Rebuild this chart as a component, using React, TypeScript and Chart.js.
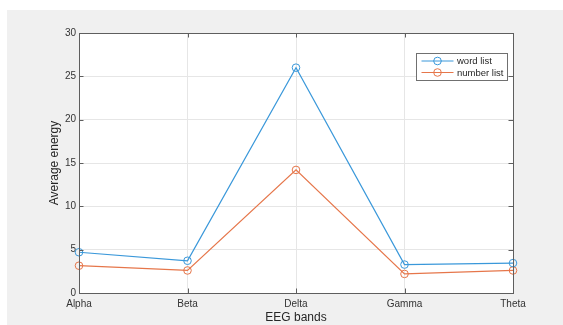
import React, { useEffect, useRef } from "react";
import { Chart, registerables } from "chart.js";

Chart.register(...registerables);

const bands = ["Alpha", "Beta", "Delta", "Gamma", "Theta"];
const wordList = [4.7, 3.72, 26.0, 3.28, 3.45];
const numberList = [3.15, 2.6, 14.2, 2.2, 2.6];
const yTicks = [0, 5, 10, 15, 20, 25, 30];
const seriesLabels = ["word list", "number list"];
const seriesColors = ["#3a98da", "#e6764a"];

const FONT = "'Liberation Sans', Arial, Helvetica, sans-serif";

const bgPlugin = {
  id: "matlabBg",
  beforeDraw(chart: any) {
    const { ctx, chartArea: a } = chart;
    ctx.save();
    ctx.fillStyle = "#ffffff";
    ctx.fillRect(0, 0, chart.width, chart.height);
    ctx.fillStyle = "#f0f0f0";
    ctx.fillRect(7, 10, chart.width - 7, chart.height - 10);
    ctx.fillStyle = "#ffffff";
    ctx.fillRect(a.left, a.top, a.right - a.left, a.bottom - a.top);
    ctx.restore();
  },
};

const framePlugin = {
  id: "matlabFrame",
  afterDatasetsDraw(chart: any) {
    const { ctx, chartArea: a } = chart;
    const xs = chart.scales.x;
    const ys = chart.scales.y;
    const tl = 4.5;
    ctx.save();
    ctx.strokeStyle = "#5e5e5e";
    ctx.lineWidth = 1;
    ctx.beginPath();
    xs.ticks.forEach((_: any, i: number) => {
      const px = Math.round(xs.getPixelForTick(i)) + 0.5;
      ctx.moveTo(px, a.bottom);
      ctx.lineTo(px, a.bottom - tl);
      ctx.moveTo(px, a.top);
      ctx.lineTo(px, a.top + tl);
    });
    ys.ticks.forEach((_: any, i: number) => {
      const py = Math.round(ys.getPixelForTick(i)) + 0.5;
      ctx.moveTo(a.left, py);
      ctx.lineTo(a.left + tl, py);
      ctx.moveTo(a.right, py);
      ctx.lineTo(a.right - tl, py);
    });
    ctx.stroke();
    ctx.strokeRect(
      Math.round(a.left) + 0.5,
      Math.round(a.top) + 0.5,
      Math.round(a.right - a.left),
      Math.round(a.bottom - a.top)
    );
    ctx.restore();
  },
};

const legendPlugin = {
  id: "matlabLegend",
  afterDraw(chart: any) {
    const { ctx, chartArea: a } = chart;
    const boxW = 91;
    const boxH = 27;
    const x0 = a.right - 6 - boxW;
    const y0 = a.top + 19.5;
    ctx.save();
    ctx.fillStyle = "#ffffff";
    ctx.fillRect(x0, y0, boxW, boxH);
    ctx.strokeStyle = "#707070";
    ctx.lineWidth = 1;
    ctx.strokeRect(Math.round(x0) + 0.5, Math.round(y0) + 0.5, boxW, boxH);
    ctx.font = `9.5px ${FONT}`;
    ctx.textBaseline = "middle";
    ctx.textAlign = "left";
    chart.data.datasets.forEach((ds: any, i: number) => {
      const cy = y0 + 8.5 + i * 11.5;
      const lx = x0 + 5.5;
      ctx.strokeStyle = ds.borderColor;
      ctx.beginPath();
      ctx.moveTo(lx, cy);
      ctx.lineTo(lx + 32, cy);
      ctx.stroke();
      ctx.beginPath();
      ctx.arc(lx + 16, cy, 3.8, 0, Math.PI * 2);
      ctx.stroke();
      ctx.fillStyle = "#262626";
      ctx.fillText(ds.label, lx + 35.5, cy + 0.5);
    });
    ctx.restore();
  },
};

export default function App() {
  const ref = useRef<HTMLCanvasElement | null>(null);

  useEffect(() => {
    if (!ref.current) return;
    const series = [wordList, numberList];
    const chart = new Chart(ref.current, {
      type: "line",
      data: {
        labels: bands,
        datasets: series.map((d, i) => ({
          label: seriesLabels[i],
          data: d,
          borderColor: seriesColors[i],
          backgroundColor: "rgba(0,0,0,0)",
          pointBackgroundColor: "rgba(0,0,0,0)",
          pointBorderColor: seriesColors[i],
          pointRadius: 3.8,
          pointBorderWidth: 1,
          borderWidth: 1.2,
          tension: 0,
          clip: false as any,
        })),
      },
      options: {
        responsive: false,
        maintainAspectRatio: false,
        animation: false,
        devicePixelRatio: 1,
        layout: { padding: { top: 33, right: 50, left: 0, bottom: 0 } },
        plugins: {
          legend: { display: false },
          tooltip: { enabled: false },
        },
        scales: {
          x: {
            type: "category",
            offset: false,
            grid: { color: "#e6e6e6", drawTicks: false, lineWidth: 1 },
            border: { display: false },
            ticks: {
              padding: 5,
              color: "#333333",
              font: { family: FONT, size: 10 },
              maxRotation: 0,
            },
            title: {
              display: true,
              text: "EEG bands",
              color: "#262626",
              font: { family: FONT, size: 12 },
              padding: { top: 0, bottom: 0 },
            },
            afterFit(scale: any) {
              scale.height = 32;
            },
          },
          y: {
            min: yTicks[0],
            max: yTicks[yTicks.length - 1],
            afterBuildTicks(scale: any) {
              scale.ticks = yTicks.map((v) => ({ value: v }));
            },
            grid: { color: "#e6e6e6", drawTicks: false, lineWidth: 1 },
            border: { display: false },
            ticks: {
              padding: 3,
              color: "#333333",
              font: { family: FONT, size: 10 },
            },
            title: {
              display: true,
              text: "Average energy",
              color: "#262626",
              font: { family: FONT, size: 12 },
              padding: { top: 47, bottom: 0 },
            },
            afterFit(scale: any) {
              scale.width = 79;
            },
          },
        },
      },
      plugins: [bgPlugin, framePlugin, legendPlugin],
    });
    return () => chart.destroy();
  }, []);

  return (
    <div style={{ position: "fixed", left: 0, top: 0, width: 563, height: 325 }}>
      <canvas ref={ref} width={563} height={325} style={{ display: "block" }} />
    </div>
  );
}
